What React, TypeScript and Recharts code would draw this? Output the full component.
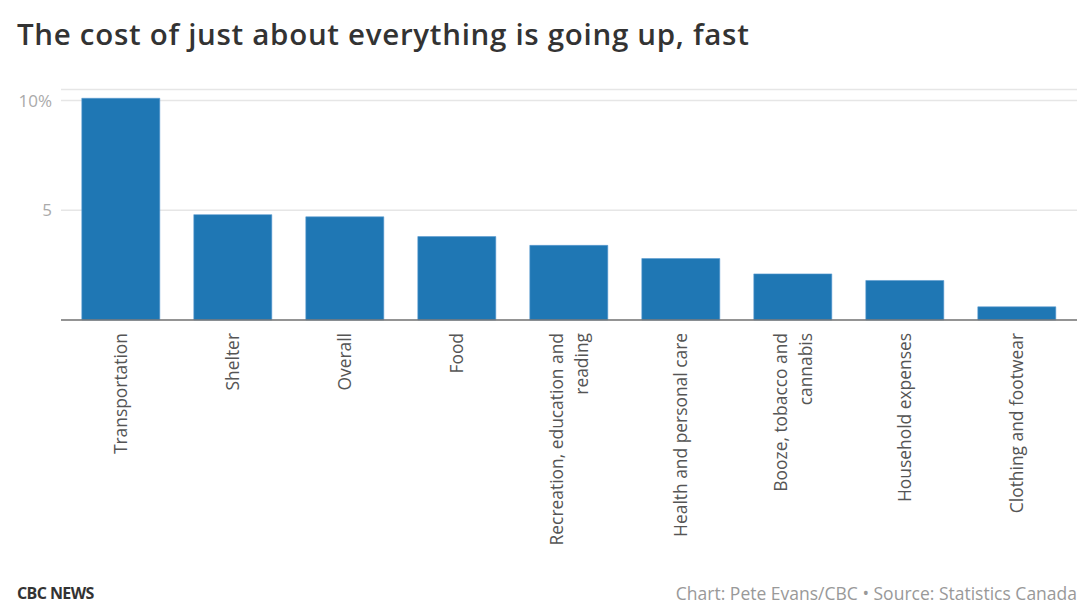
import { BarChart, Bar, XAxis, YAxis, CartesianGrid } from 'recharts';

const categories = [
  'Transportation',
  'Shelter',
  'Overall',
  'Food',
  'Recreation, education and reading',
  'Health and personal care',
  'Booze, tobacco and cannabis',
  'Household expenses',
  'Clothing and footwear',
];
const changes = [10.1, 4.8, 4.7, 3.8, 3.4, 2.8, 2.1, 1.8, 0.6];
const yTicks = [5, 10];

const data = categories.map((name, i) => ({ name, value: changes[i] }));

const FONT = '"Open Sans", sans-serif';

// wrap long labels at ~25 characters, like the original
const wrap = (s: string, max = 25) => {
  const lines: string[] = [];
  let cur = '';
  for (const w of s.split(' ')) {
    const next = cur ? cur + ' ' + w : w;
    if (next.length > max && cur) {
      lines.push(cur);
      cur = w;
    } else {
      cur = next;
    }
  }
  if (cur) lines.push(cur);
  return lines;
};

const CategoryTick = (props: any) => {
  const { x, y, payload } = props;
  const lines = wrap(payload.value);
  const lh = 25;
  const first = 6 - ((lines.length - 1) * lh) / 2;
  return (
    <g transform={`translate(${x},${y + 5})`}>
      <text transform="rotate(-90)" textAnchor="end" fill="#555" fontSize={17.4} fontFamily={FONT}>
        {lines.map((l, i) => (
          <tspan key={i} x={0} y={first + i * lh}>
            {l}
          </tspan>
        ))}
      </text>
    </g>
  );
};

export default function App() {
  return (
    <div style={{ position: 'absolute', left: 0, top: 0, width: 1080, height: 612, background: '#fff', overflow: 'hidden' }}>
      <div
        style={{
          position: 'absolute',
          left: 17,
          top: 13,
          fontFamily: FONT,
          fontWeight: 600,
          fontSize: 29.5,
          letterSpacing: 0.7,
          color: '#333',
          whiteSpace: 'nowrap',
        }}
      >
        The cost of just about everything is going up, fast
      </div>
      <div style={{ position: 'absolute', left: 0, top: 0 }}>
        <BarChart
          width={1080}
          height={550}
          data={data}
          margin={{ top: 89.5, right: 3, bottom: 0, left: 0 }}
          barCategoryGap="15%"
        >
          <CartesianGrid vertical={false} stroke="#e6e6e6" strokeWidth={1.5} />
          <YAxis
            width={61}
            domain={[0, 10.5]}
            ticks={yTicks}
            axisLine={false}
            tickLine={false}
            tickSize={0}
            tickMargin={9}
            tickFormatter={(v: number) => (v === 10 ? '10%' : String(v))}
            tick={{ fill: '#aaa', fontSize: 17, fontFamily: FONT }}
          />
          <XAxis
            dataKey="name"
            height={230}
            interval={0}
            padding={{ left: 4, right: 4 }}
            tickLine={false}
            axisLine={{ stroke: '#777', strokeWidth: 1.5 }}
            tick={<CategoryTick />}
          />
          <Bar dataKey="value" fill="#1f77b4" stroke="#5b9bd0" strokeWidth={0.6} isAnimationActive={false} />
        </BarChart>
      </div>
      <div
        style={{
          position: 'absolute',
          left: 17,
          top: 582,
          fontFamily: FONT,
          fontWeight: 700,
          fontSize: 16,
          color: '#333',
          letterSpacing: -0.6,
        }}
      >
        CBC NEWS
      </div>
      <div
        style={{
          position: 'absolute',
          right: 3,
          top: 581,
          fontFamily: FONT,
          fontSize: 17.5,
          color: '#999',
          whiteSpace: 'nowrap',
        }}
      >
        Chart: Pete Evans/CBC • Source: Statistics Canada
      </div>
    </div>
  );
}
